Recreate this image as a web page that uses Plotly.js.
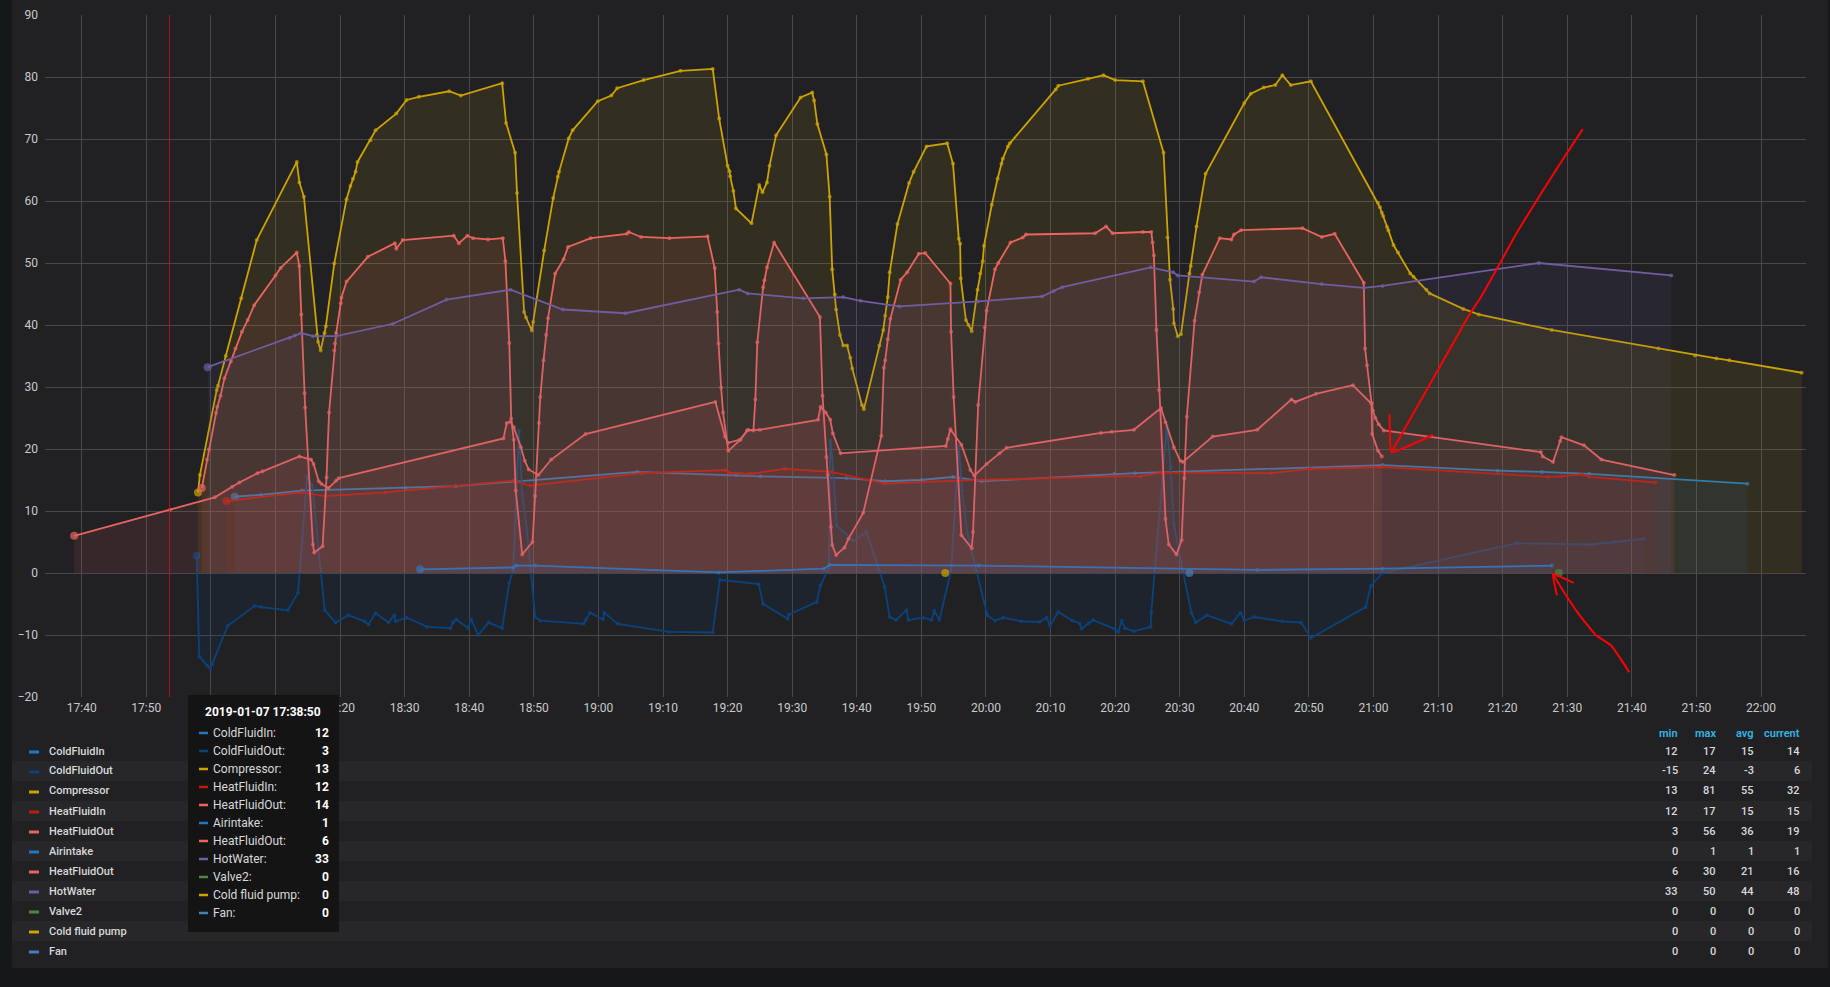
<!DOCTYPE html>
<html><head><meta charset="utf-8">
<script src="https://cdn.plot.ly/plotly-3.0.1.min.js"></script>
<style>html,body{margin:0;padding:0;background:#161719;}#chart{width:1830px;height:987px;}</style>
</head><body><div id="chart"></div>
<script>
const DAY = '2019-01-07 ';

// ---- series data (clock time, value) ----
const coldFluidInT = ['18:03:42','18:07:42','18:14:06','18:30:06','18:37:54','19:06:00','19:21:18','19:25:06','19:38:24','19:44:24',
  '19:50:00','19:54:54','19:59:18','20:19:54','20:23:06','21:01:24','21:19:12','21:26:06','21:33:24','21:57:54'];
const coldFluidInV = [12.3,12.6,13.3,13.7,14.0,16.3,15.8,15.6,15.3,14.8,
  15.0,15.5,14.8,16.0,16.1,17.4,16.5,16.3,16.0,14.4];

const coldFluidOutT = ['17:57:48','17:58:12','17:59:24','17:59:54','18:00:12','18:02:36','18:06:48','18:07:48','18:11:54','18:13:30',
  '18:14:54','18:15:42','18:17:36','18:19:18','18:21:18','18:23:48','18:24:24','18:25:30','18:27:30','18:28:24',
  '18:28:36','18:30:18','18:33:30','18:37:06','18:37:30','18:38:00','18:39:48','18:40:18','18:41:24','18:43:00',
  '18:45:06','18:46:12','18:46:48','18:47:42','18:48:12','18:48:54','18:50:12','18:51:00','18:57:42','18:58:06',
  '18:58:42','19:00:42','19:00:54','19:03:00','19:10:54','19:17:42','19:18:48','19:24:48','19:25:30','19:29:18',
  '19:29:30','19:33:48','19:34:24','19:35:42','19:35:54','19:36:12','19:36:54','19:39:30','19:41:30','19:44:18',
  '19:45:06','19:46:06','19:47:42','19:48:00','19:50:12','19:51:36','19:52:00','19:52:48','19:54:36','19:55:48',
  '19:56:18','19:57:06','20:00:12','20:01:24','20:02:42','20:05:30','20:08:18','20:09:24','20:09:54','20:11:12',
  '20:13:24','20:14:30','20:14:48','20:15:54','20:16:36','20:19:54','20:20:30','20:21:00','20:21:30','20:22:54',
  '20:25:30','20:25:36','20:28:00','20:28:36','20:29:06','20:30:12','20:31:48','20:32:30','20:34:12','20:38:00',
  '20:39:24','20:40:00','20:41:30','20:45:54','20:48:48','20:50:18','20:58:48','20:59:36','21:01:24','21:22:12',
  '21:33:42','21:37:18','21:41:48'];
const coldFluidOutV = [2.8,-13.5,-14.9,-15.4,-14.7,-8.5,-5.3,-5.5,-6.0,-3.2,
  15.6,14.2,-6.0,-8.0,-6.8,-7.8,-8.3,-6.5,-8.0,-6.8,
  -7.8,-7.2,-8.7,-8.9,-8.0,-7.5,-8.9,-7.5,-10.0,-8.0,
  -8.9,-1.6,0.4,23.0,12.8,7.1,-7.1,-7.7,-8.2,-7.5,
  -6.4,-7.5,-6.4,-8.2,-9.5,-9.6,-1.1,-1.8,-5.0,-7.4,
  -6.7,-4.7,-2.0,0.9,21.4,18.7,7.6,5.2,6.6,-2.2,
  -7.1,-7.6,-6.0,-7.6,-7.2,-7.6,-6.1,-7.6,0.4,20.5,
  13.3,6.5,-6.8,-7.7,-7.2,-7.8,-7.9,-7.2,-8.5,-6.3,
  -7.7,-8.1,-9.0,-8.1,-7.6,-9.0,-9.5,-7.7,-8.9,-9.4,
  -8.7,-6.4,23.8,17.1,7.8,1.8,-6.4,-8.0,-6.8,-8.2,
  -6.4,-7.7,-7.1,-7.8,-8.0,-10.5,-5.5,-2.1,0.0,4.8,
  4.6,5.0,5.5];

const compressorT = ['17:58:00','17:58:18','18:00:54','18:01:06','18:02:18','18:04:42','18:07:06','18:13:18','18:13:42','18:14:24',
  '18:16:24','18:16:36','18:17:00','18:17:36','18:17:48','18:19:06','18:21:00','18:21:36','18:22:00','18:22:24',
  '18:22:42','18:24:42','18:25:30','18:28:42','18:30:18','18:32:12','18:36:54','18:38:42','18:45:06','18:45:42',
  '18:47:06','18:47:24','18:48:30','18:48:48','18:49:42','18:49:54','18:51:36','18:53:00','18:53:42','18:53:54',
  '18:55:24','18:56:00','18:59:54','19:02:00','19:02:54','19:07:00','19:12:42','19:17:42','19:18:42','19:20:00',
  '19:20:18','19:20:24','19:20:54','19:21:18','19:23:42','19:24:54','19:25:24','19:26:06','19:26:30','19:27:30',
  '19:31:18','19:33:06','19:33:24','19:33:54','19:35:18','19:35:48','19:36:12','19:36:36','19:36:48','19:37:24',
  '19:37:54','19:38:30','19:39:00','19:39:18','19:40:48','19:41:06','19:43:30','19:44:06','19:44:24','19:44:48',
  '19:45:06','19:46:18','19:48:06','19:48:48','19:50:48','19:54:00','19:54:54','19:55:48','19:56:00','19:56:06',
  '19:56:54','19:57:18','19:57:48','19:58:42','19:59:06','19:59:30','19:59:42','20:00:54','20:01:48','20:02:24',
  '20:02:36','20:03:24','20:03:42','20:10:48','20:11:12','20:15:48','20:18:12','20:20:00','20:24:18','20:27:30',
  '20:28:06','20:28:30','20:29:00','20:29:06','20:29:42','20:30:12','20:31:30','20:31:42','20:32:36','20:34:00',
  '20:40:00','20:41:00','20:43:00','20:44:48','20:45:54','20:47:12','20:50:18','21:00:42','21:01:00','21:01:18',
  '21:01:30','21:02:06','21:02:18','21:03:06','21:03:48','21:05:42','21:06:12','21:08:12','21:08:42','21:13:54',
  '21:16:18','21:27:36','21:44:06','21:49:48','21:53:06','21:55:06','22:06:18'];
const compressorV = [13.0,15.8,29.5,30.2,35.0,44.3,53.7,66.3,63.0,60.7,
  38.4,37.3,35.9,38.7,39.8,49.9,60.3,62.4,63.6,64.7,
  66.3,69.8,71.4,74.1,76.3,76.8,77.7,77.0,79.0,72.6,
  67.8,61.3,42.1,41.2,39.1,40.5,52.0,60.5,63.9,64.7,
  70.1,71.4,76.1,77.0,78.2,79.5,81.0,81.3,73.3,65.7,
  64.8,64.0,61.6,58.8,56.4,62.6,61.4,63.0,65.7,70.6,
  76.7,77.5,76.2,72.4,67.5,60.7,49.0,44.9,42.5,38.4,
  36.7,36.7,34.7,33.0,27.1,26.4,36.7,39.2,41.5,44.5,
  48.5,56.3,62.9,64.7,68.8,69.3,66.0,53.9,53.1,47.5,
  40.8,40.0,39.0,45.7,48.3,50.3,52.8,59.4,63.6,66.0,
  66.8,68.8,69.3,78.0,78.6,79.7,80.3,79.5,79.3,67.8,
  54.1,47.3,42.6,40.3,38.2,38.5,48.3,49.5,55.9,64.4,
  75.8,77.3,78.3,78.7,80.3,78.7,79.3,59.7,59.0,58.1,
  57.6,55.8,55.3,52.9,51.7,48.3,47.8,45.7,45.1,42.6,
  41.7,39.2,36.2,35.1,34.6,34.3,32.3];

const heatFluidInT = ['18:02:24','18:14:06','18:17:42','18:27:00','18:46:54','18:49:24','19:06:36','19:19:36','19:20:12','19:23:30',
  '19:28:48','19:36:06','19:44:24','19:55:42','20:19:54','20:23:54','20:27:06','20:44:12','20:50:18','21:01:24',
  '21:27:00','21:29:00','21:32:18','21:33:24','21:43:42'];
const heatFluidInV = [11.6,13.0,12.4,13.0,14.9,14.1,16.1,16.6,16.2,16.0,
  16.8,16.3,14.4,14.9,15.6,15.6,16.2,16.1,16.8,17.1,
  15.5,15.6,15.9,15.5,14.6];

const heatFluidOutT = ['17:58:36','17:59:24','17:59:42','18:00:48','18:01:00','18:01:30','18:02:06','18:03:06','18:03:48','18:04:48',
  '18:05:42','18:06:42','18:10:00','18:10:48','18:13:18','18:13:42','18:14:00','18:14:30','18:14:36','18:15:48',
  '18:16:00','18:17:18','18:17:54','18:18:18','18:19:06','18:19:12','18:19:24','18:20:06','18:20:12','18:21:00',
  '18:24:18','18:28:30','18:28:42','18:29:42','18:37:36','18:38:24','18:39:42','18:40:36','18:42:54','18:45:12',
  '18:45:36','18:46:12','18:46:30','18:46:54','18:47:12','18:48:12','18:49:48','18:50:12','18:50:48','18:51:00',
  '18:51:30','18:51:54','18:52:12','18:53:18','18:54:36','18:55:18','18:58:48','19:04:24','19:04:42','19:06:36',
  '19:11:00','19:16:54','19:18:00','19:18:24','19:18:36','19:19:00','19:19:18','19:20:06','19:22:00','19:23:00',
  '19:24:00','19:24:18','19:24:36','19:25:30','19:25:42','19:26:06','19:27:12','19:34:18','19:34:42','19:35:18',
  '19:35:30','19:36:00','19:36:12','19:36:48','19:38:06','19:38:42','19:41:00','19:43:48','19:44:12','19:44:24',
  '19:44:48','19:45:12','19:46:48','19:47:48','19:49:36','19:50:36','19:54:30','19:54:36','19:55:00','19:56:12',
  '19:57:48','19:58:00','19:58:48','19:59:48','20:00:06','20:01:24','20:01:54','20:03:48','20:05:42','20:06:12',
  '20:16:54','20:18:36','20:19:36','20:24:18','20:25:36','20:25:48','20:26:00','20:26:24','20:26:48','20:27:00',
  '20:27:48','20:28:18','20:29:30','20:30:18','20:30:42','20:31:06','20:32:18','20:33:00','20:33:30','20:36:12',
  '20:38:00','20:38:24','20:39:30','20:49:00','20:52:00','20:54:00','20:58:30','20:58:42','20:59:00','20:59:42',
  '20:59:48','21:00:42','21:01:18'];
const heatFluidOutV = [13.7,18.3,19.9,25.8,26.8,28.6,31.4,34.1,36.2,38.9,
  40.8,43.2,48.0,49.2,51.7,49.5,41.7,29.0,26.7,4.6,
  3.3,4.3,15.4,25.9,35.9,37.0,38.7,43.5,44.4,47.0,
  51.0,53.2,52.3,53.7,54.4,53.2,54.4,54.0,53.8,54.0,
  50.3,37.1,24.9,21.5,13.3,3.0,5.0,12.4,24.2,28.4,
  34.3,38.4,41.1,48.3,50.6,52.6,54.0,54.7,55.0,54.2,
  54.0,54.3,49.2,42.1,37.0,29.9,25.9,19.7,21.5,23.0,
  23.0,28.0,37.2,46.1,47.2,49.3,53.3,41.3,28.6,18.7,
  15.8,7.4,4.5,2.9,4.1,5.5,9.7,22.1,33.1,34.3,
  37.7,41.0,47.3,48.5,51.5,51.6,46.7,38.9,28.4,6.1,
  4.0,6.6,27.1,39.6,42.3,49.0,50.0,53.3,54.1,54.6,
  54.8,55.9,54.8,55.0,55.0,53.3,51.2,39.2,29.5,26.3,
  8.7,4.6,3.0,5.3,15.3,25.2,40.7,45.3,48.1,54.0,
  53.8,54.6,55.3,55.6,54.2,54.7,46.8,36.2,33.5,27.4,
  22.4,19.7,18.8];

const airintakeT = ['18:32:24','18:46:48','18:47:18','18:50:12','19:18:36','19:34:54','19:35:48','19:58:54','20:42:00','21:01:24','21:27:36'];
const airintakeV = [0.6,0.9,1.2,1.2,0.1,0.7,1.3,1.2,0.5,0.7,1.2];

const heatFluidOut2T = ['17:38:50','17:53:42','18:00:36','18:03:18','18:04:24','18:07:12','18:08:00','18:13:42','18:15:30','18:15:54',
  '18:16:42','18:17:06','18:18:12','18:19:24','18:19:48','18:45:18','18:45:48','18:46:24','18:46:54','18:48:00',
  '18:48:36','18:49:12','18:50:42','18:52:42','18:58:00','19:18:06','19:19:36','19:20:06','19:21:54','19:23:12',
  '19:25:00','19:34:00','19:34:24','19:35:12','19:35:54','19:36:18','19:37:30','19:53:48','19:54:06','19:54:30',
  '19:56:12','19:57:36','19:58:12','20:00:06','20:02:06','20:03:12','20:17:48','20:19:30','20:22:54','20:27:06',
  '20:27:48','20:29:06','20:30:06','20:30:30','20:35:06','20:42:00','20:47:18','20:47:54','20:51:06','20:56:48',
  '20:59:42','20:59:54','21:00:18','21:00:48','21:01:36','21:25:54','21:26:12','21:27:48','21:28:54','21:29:06',
  '21:32:36','21:35:18','21:46:36'];
const heatFluidOut2V = [6.0,10.2,12.2,13.9,14.6,16.1,16.4,18.8,18.3,17.6,
  14.8,14.4,13.7,14.9,15.3,21.7,24.2,24.4,23.5,20.3,
  18.1,16.7,15.8,18.3,22.4,27.6,22.0,21.0,21.5,23.1,
  23.1,24.7,26.8,25.9,24.7,22.5,19.3,20.5,21.6,23.2,
  20.7,16.6,15.7,17.6,19.3,20.2,22.6,22.8,23.1,26.6,
  24.3,20.3,18.1,17.9,22.0,23.1,28.0,27.6,28.9,30.3,
  27.3,26.2,25.0,24.0,23.0,19.5,18.8,17.9,21.3,21.9,
  20.6,18.3,15.8];

const hotWaterT = ['17:59:30','18:12:12','18:13:00','18:14:00','18:15:48','18:19:24','18:28:12','18:36:30','18:46:24','18:54:30',
  '19:04:12','19:21:48','19:23:06','19:31:42','19:37:54','19:40:36','19:46:36','19:58:48','20:08:42','20:10:30',
  '20:11:48','20:25:30','20:29:00','20:29:42','20:41:30','20:42:36','20:52:00','20:58:30','21:01:24','21:25:36',
  '21:46:06'];
const hotWaterV = [33.2,37.9,38.3,38.7,38.2,38.2,40.2,44.1,45.7,42.5,
  41.9,45.7,45.1,44.3,44.5,43.9,43.0,43.8,44.6,45.5,
  46.1,49.3,48.5,48.0,47.0,47.7,46.6,46.0,46.3,50.0,
  48.0];

const valve2T = ['21:28:42'];          const valve2V = [0];
const coldFluidPumpT = ['19:53:42'];   const coldFluidPumpV = [0];
const fanT = ['20:31:30'];             const fanV = [0];

// ---- legend / table / tooltip texts ----
const seriesNames = ['ColdFluidIn','ColdFluidOut','Compressor','HeatFluidIn','HeatFluidOut','Airintake','HeatFluidOut','HotWater','Valve2','Cold fluid pump','Fan'];
const seriesColors = ['#1F78C1','#0A437C','#CCA300','#BF1B00','#EA6460','#1F78C1','#EA6460','#705DA0','#508642','#CCA300','#447EBC'];
const statMin = [12,-15,13,12,3,0,6,33,0,0,0];
const statMax = [17,24,81,17,56,1,30,50,0,0,0];
const statAvg = [15,-3,55,15,36,1,21,44,0,0,0];
const statCurrent = [14,6,32,15,19,1,16,48,0,0,0];
const statHeaders = ['min','max','avg','current'];
const tooltipTime = '2019-01-07 17:38:50';
const tooltipValues = [12,3,13,12,14,1,6,33,0,0,0];
const markerTime = '17:53:36';
const panelTitle = 'WP - Verlauf';
const tickTimes = ['17:40','17:50','18:00','18:10','18:20','18:30','18:40','18:50','19:00','19:10','19:20','19:30','19:40',
  '19:50','20:00','20:10','20:20','20:30','20:40','20:50','21:00','21:10','21:20','21:30','21:40','21:50','22:00'];
const hiddenTickLabels = ['18:00','18:10']; // fully covered by the tooltip box in the reference

// hand-drawn red arrows (screenshot doodles)
const doodle1T = ['21:32:24','21:29:48','21:25:42','21:22:18','21:19:30','21:16:24','21:14:48','21:02:48'];
const doodle1V = [71.6,67.5,60.8,55.1,49.8,44.1,41.6,19.5];
const doodle1HeadT = ['21:02:30','21:02:48','21:09:12'];
const doodle1HeadV = [25.6,19.5,22.3];
const doodle2T = ['21:39:36','21:38:18','21:36:48','21:34:24','21:31:54','21:29:48','21:27:48'];
const doodle2V = [-16.0,-13.9,-11.7,-10.0,-6.8,-3.6,-0.2];
const doodle2HeadT = ['21:31:00','21:27:48','21:28:24'];
const doodle2HeadV = [-1.6,-0.2,-3.6];

// ---- build ----
const seriesData = [
  [coldFluidInT, coldFluidInV], [coldFluidOutT, coldFluidOutV], [compressorT, compressorV],
  [heatFluidInT, heatFluidInV], [heatFluidOutT, heatFluidOutV], [airintakeT, airintakeV],
  [heatFluidOut2T, heatFluidOut2V], [hotWaterT, hotWaterV], [valve2T, valve2V],
  [coldFluidPumpT, coldFluidPumpV], [fanT, fanV]
];
function hexA(hex, a){
  const n = parseInt(hex.slice(1),16);
  return 'rgba(' + ((n>>16)&255) + ',' + ((n>>8)&255) + ',' + (n&255) + ',' + a + ')';
}
const toX = arr => arr.map(t => DAY + t);

const traces = seriesData.map((d, i) => ({
  type: 'scatter', mode: 'lines+markers', name: seriesNames[i],
  x: toX(d[0]), y: d[1],
  line: {color: seriesColors[i], width: 1.8},
  marker: {color: seriesColors[i], size: d[1].map((_, k) => k === 0 ? 8 : 4), line: {width: 0}},
  fill: 'tozeroy', fillcolor: hexA(seriesColors[i], 0.1),
  hoverinfo: 'skip', showlegend: false
}));
[[doodle1T, doodle1V],[doodle1HeadT, doodle1HeadV],[doodle2T, doodle2V],[doodle2HeadT, doodle2HeadV]].forEach(d => {
  traces.push({type:'scatter', mode:'lines', x: toX(d[0]), y: d[1], line:{color:'#ff0000', width:2, shape:'spline', smoothing:0.3}, hoverinfo:'skip', showlegend:false});
});

// pixel helpers (plot area: x 45..1806, y 15..697)
const PL = 45, PR = 1806, PT = 15, PB = 697;
const X = px => (px - PL) / (PR - PL);
const Y = py => (PB - py) / (PB - PT);

const shapes = [];
const annotations = [];
const FONT = 'Roboto, "Open Sans", sans-serif';

// panel background
shapes.push({type:'rect', xref:'paper', yref:'paper', x0:X(12), x1:X(1828), y0:Y(968), y1:Y(0), fillcolor:'#212124', line:{width:0}, layer:'below'});

// legend rows
const rowY0 = 751, rowStep = 20;
seriesNames.forEach((name, i) => {
  const cy = rowY0 + i*rowStep;
  if (i % 2 === 1) {
    shapes.push({type:'rect', xref:'paper', yref:'paper', x0:X(12), x1:X(1812), y0:Y(cy+10), y1:Y(cy-10), fillcolor:'#27272a', line:{width:0}, layer:'below'});
  }
  shapes.push({type:'line', xref:'paper', yref:'paper', x0:X(29), x1:X(39), y0:Y(cy+1), y1:Y(cy+1), line:{color:seriesColors[i], width:3}});
  annotations.push({xref:'paper', yref:'paper', x:X(47), y:Y(cy), xanchor:'left', yanchor:'middle', showarrow:false,
    text:name, font:{family:FONT, size:11, color:'#d8d9da', weight:500}});
  const vals = [statMin[i], statMax[i], statAvg[i], statCurrent[i]];
  const cols = [1680, 1718, 1756, 1802];
  vals.forEach((v, j) => annotations.push({xref:'paper', yref:'paper', x:X(cols[j]), y:Y(cy), xanchor:'right', yanchor:'middle', showarrow:false,
    text:String(v), font:{family:FONT, size:11, color:'#d8d9da', weight:500}}));
});
[1680, 1718, 1756, 1802].forEach((c, j) => annotations.push({xref:'paper', yref:'paper', x:X(c), y:Y(733), xanchor:'right', yanchor:'middle', showarrow:false,
  text:statHeaders[j], font:{family:FONT, size:11, color:'#33b5e5', weight:600}}));

// red vertical marker line
shapes.push({type:'line', xref:'x', yref:'paper', x0:DAY+markerTime, x1:DAY+markerTime, y0:0, y1:1, line:{color:'rgba(200,20,20,0.85)', width:1}});

// tooltip
shapes.push({type:'rect', xref:'paper', yref:'paper', x0:X(188), x1:X(339), y0:Y(932), y1:Y(695), fillcolor:'#141414', line:{width:0}, layer:'above'});
annotations.push({xref:'paper', yref:'paper', x:X(263), y:Y(712), xanchor:'center', yanchor:'middle', showarrow:false,
  text:'<b>'+tooltipTime+'</b>', font:{family:FONT, size:12, color:'#ffffff'}});
seriesNames.forEach((name, i) => {
  const cy = 733 + i*18;
  shapes.push({type:'line', xref:'paper', yref:'paper', x0:X(199), x1:X(208), y0:Y(cy), y1:Y(cy), line:{color:seriesColors[i], width:2.5}, layer:'above'});
  annotations.push({xref:'paper', yref:'paper', x:X(211), y:Y(cy), xanchor:'left', yanchor:'middle', showarrow:false,
    text:name+':', font:{family:FONT, size:12, color:'#d8d9da'}});
  annotations.push({xref:'paper', yref:'paper', x:X(331), y:Y(cy), xanchor:'right', yanchor:'middle', showarrow:false,
    text:'<b>'+tooltipValues[i]+'</b>', font:{family:FONT, size:12, color:'#ffffff'}});
});

// clipped panel title at the very top
annotations.push({xref:'paper', yref:'paper', x:X(921), y:Y(4), xanchor:'center', yanchor:'bottom', showarrow:false,
  text:'<b>'+panelTitle+'</b>', font:{family:FONT, size:14, color:'#d8d9da'}});

const layout = {
  width:1830, height:987,
  margin:{l:PL, r:1830-PR, t:PT, b:987-PB, pad:0},
  paper_bgcolor:'#161719', plot_bgcolor:'rgba(0,0,0,0)',
  showlegend:false, hovermode:false,
  font:{family:FONT, color:'#c8c9ca', size:12},
  xaxis:{type:'date', range:[DAY+'17:34:19', DAY+'22:06:58'],
    tickmode:'array', tickvals: tickTimes.map(t => DAY + t + ':00'),
    ticktext: tickTimes.map(t => hiddenTickLabels.includes(t) ? '' : t),
    showgrid:true, gridcolor:'#48484b', gridwidth:1, zeroline:false, showline:false, ticks:'', ticklabelstandoff:2,
    tickfont:{family:FONT, size:12, color:'#c8c9ca'}},
  yaxis:{range:[-20,90], dtick:10, tick0:0, showgrid:true, gridcolor:'#48484b', gridwidth:1, zeroline:false, showline:false, ticks:'',
    ticklabelstandoff:6, tickfont:{family:FONT, size:12, color:'#c8c9ca'}},
  shapes: shapes, annotations: annotations
};
Plotly.newPlot('chart', traces, layout, {displayModeBar:false, staticPlot:true});
</script></body></html>
